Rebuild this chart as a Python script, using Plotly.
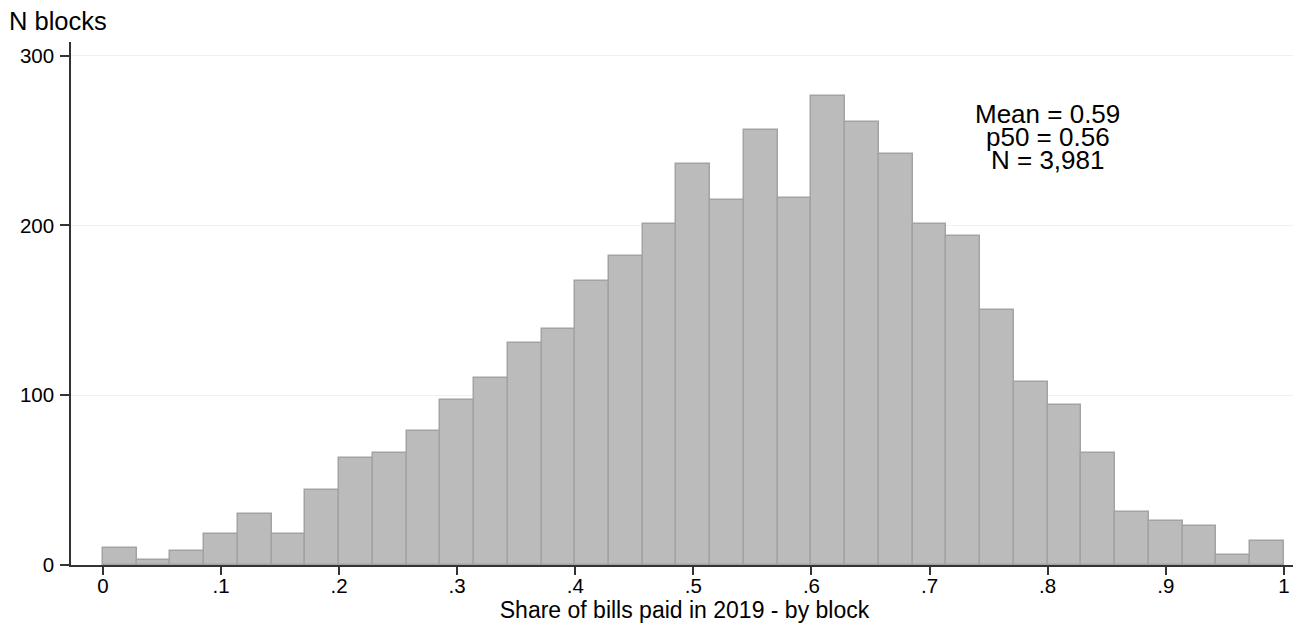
import plotly.graph_objects as go

# histogram: 35 bins of equal width on [0, 1]
n_bins = 35
bin_width = 1 / n_bins
bin_left = [i / n_bins for i in range(n_bins)]
counts = [10, 3, 8, 18, 30, 18, 44, 63, 66, 79,
          97, 110, 131, 139, 167, 182, 201, 236, 215, 256,
          216, 276, 261, 242, 201, 194, 150, 108, 94, 66,
          31, 26, 23, 6, 14]

x_ticks = [0, 0.1, 0.2, 0.3, 0.4, 0.5, 0.6, 0.7, 0.8, 0.9, 1]
x_ticktext = ["0", ".1", ".2", ".3", ".4", ".5", ".6", ".7", ".8", ".9", "1"]
y_ticks = [0, 100, 200, 300]

stats_lines = ["Mean = 0.59", "p50 = 0.56", "N = 3,981"]
stats_y = [265.6, 252.2, 238.3]

font = "Arial, Liberation Sans, sans-serif"

fig = go.Figure(go.Bar(
    x=bin_left,
    y=counts,
    width=bin_width,
    offset=0,
    marker=dict(color="#bbbbbb", line=dict(color="#a3a3a3", width=1.5)),
))

# Stata style text box with the summary stats
for txt, yy in zip(stats_lines, stats_y):
    fig.add_annotation(x=0.8, y=yy, xref="x", yref="y", text=txt,
                       showarrow=False, xanchor="center", yanchor="middle",
                       borderpad=0,
                       font=dict(size=26, color="black", family=font))

# y axis title sits above the axis
fig.add_annotation(x=-0.0513, y=1.040, xref="paper", yref="paper", text="N blocks",
                   showarrow=False, xanchor="left", yanchor="middle",
                   borderpad=0,
                   font=dict(size=25.5, color="black", family=font))

# page body has an 8px margin, so size/margins are shifted to compensate
fig.update_layout(
    width=1293, height=621,
    margin=dict(l=63, r=3, t=34, b=64),
    plot_bgcolor="white", paper_bgcolor="white",
    showlegend=False,
    bargap=0,
    font=dict(family=font, color="black"),
    xaxis=dict(
        range=[-0.027, 1.012],
        tickvals=x_ticks, ticktext=x_ticktext,
        tickfont=dict(size=20.5),
        ticks="outside", ticklen=8, tickwidth=1.5, tickcolor="#333333",
        ticklabelstandoff=-6,
        showline=True, linecolor="#333333", linewidth=1.5,
        showgrid=False, zeroline=False,
        title=dict(text="Share of bills paid in 2019 - by block",
                   font=dict(size=23), standoff=4),
    ),
    yaxis=dict(
        range=[0, 308],
        tickvals=y_ticks,
        tickfont=dict(size=20.5),
        ticks="outside", ticklen=9, tickwidth=1.5, tickcolor="#333333",
        ticklabelstandoff=2,
        showline=True, linecolor="#333333", linewidth=1.5,
        showgrid=True, gridcolor="#eaf2f3", gridwidth=1,
        zeroline=False,
    ),
)

fig.write_html("out.html")
